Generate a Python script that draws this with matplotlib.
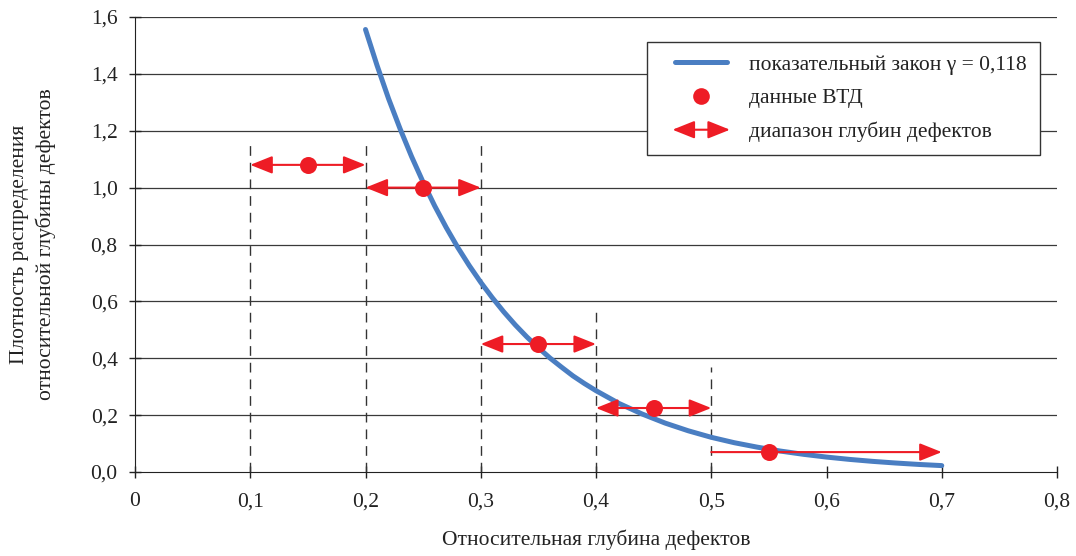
import matplotlib
matplotlib.use("Agg")
import numpy as np
import matplotlib.pyplot as plt
from matplotlib.patches import FancyArrowPatch
from matplotlib.lines import Line2D
from matplotlib.legend_handler import HandlerPatch, HandlerLine2D

plt.rcParams['font.family'] = ['Liberation Serif', 'DejaVu Serif']

# exponential law curve (gamma = 0.118)
curve_x = [0.20, 0.21, 0.22, 0.23, 0.24, 0.25, 0.26, 0.27, 0.28, 0.29, 0.30, 0.31, 0.32, 0.33,
           0.34, 0.35, 0.36, 0.37, 0.38, 0.39, 0.40, 0.42, 0.44,
           0.46, 0.48, 0.50, 0.52, 0.54, 0.56, 0.58, 0.60, 0.62, 0.64, 0.66, 0.68, 0.70]
curve_y = [1.556, 1.430, 1.313, 1.207, 1.109, 1.019, 0.936, 0.860, 0.790, 0.726, 0.667, 0.613, 0.563, 0.517,
           0.475, 0.437, 0.401, 0.369, 0.338, 0.311, 0.286, 0.241, 0.204,
           0.172, 0.145, 0.122, 0.103, 0.0873, 0.0736, 0.0622, 0.0525, 0.0443, 0.0374, 0.0316, 0.0266, 0.0225]

# ILI data points
data_x = [0.15, 0.25, 0.35, 0.45, 0.55]
data_y = [1.08, 1.00, 0.45, 0.225, 0.07]

# depth ranges
range_lo = [0.1, 0.2, 0.3, 0.4, 0.5]
range_hi = [0.2, 0.3, 0.4, 0.5, 0.7]
range_both = [True, True, True, True, False]

# dashed boundaries
dash_x = [0.1, 0.2, 0.3, 0.4, 0.5]
dash_top = [1.16, 1.16, 1.16, 0.57, 0.37]

yticks = [0.0, 0.2, 0.4, 0.6, 0.8, 1.0, 1.2, 1.4, 1.6]
ytick_labels = ['0,0', '0,2', '0,4', '0,6', '0,8', '1,0', '1,2', '1,4', '1,6']
xticks = [0.0, 0.1, 0.2, 0.3, 0.4, 0.5, 0.6, 0.7, 0.8]
xtick_labels = ['0', '0,1', '0,2', '0,3', '0,4', '0,5', '0,6', '0,7', '0,8']

blue = '#4a7ec2'
red = '#ee1c25'
ink = '#222222'
FS = 15.5
ARROW = '<|-|>,head_length=0.75,head_width=0.3'
INSET = 9.0  # legend handle left inset (points)

fig = plt.figure(figsize=(10.76, 5.56), dpi=100)
ax = fig.add_axes([135/1076, 1-472/556, (1057-135)/1076, (472-17)/556])

ax.set_xlim(0, 0.8)
ax.set_ylim(0, 1.6)

for y in yticks[1:]:
    ax.axhline(y, color='#3a3a3a', lw=0.9, zorder=1)

for x, t in zip(dash_x, dash_top):
    ax.plot([x, x], [0, t], color='#333333', lw=1.0, dashes=(7, 5), zorder=2)

ax.plot(curve_x, curve_y, color=blue, lw=3.6, solid_capstyle='round', solid_joinstyle='round', zorder=3)

for lo, hi, y, both in zip(range_lo, range_hi, data_y, range_both):
    style = ARROW if both else '-|>,head_length=0.75,head_width=0.3'
    arr = FancyArrowPatch((lo, y), (hi, y), arrowstyle=style,
                          mutation_scale=18, color=red, lw=1.5, shrinkA=0, shrinkB=0, zorder=4)
    ax.add_patch(arr)

ax.scatter(data_x, data_y, s=150, color=red, zorder=5, linewidths=0)

ax.spines['top'].set_visible(False)
ax.spines['right'].set_visible(False)
ax.spines['left'].set_color(ink)
ax.spines['bottom'].set_color(ink)
ax.set_yticks(yticks)
ax.set_yticklabels(ytick_labels)
ax.set_xticks(xticks)
ax.set_xticklabels(xtick_labels)
ax.tick_params(axis='both', direction='inout', length=9, width=1.0, color=ink,
               labelsize=FS, labelcolor=ink)
ax.tick_params(axis='x', pad=10)
ax.tick_params(axis='y', pad=8)

fig.text(596/1076, 1-540/556, 'Относительная глубина дефектов', fontsize=FS, color=ink,
         ha='center', va='center')
fig.text(33/1076, 1-244/556, 'Плотность распределения\nотносительной глубины дефектов', fontsize=FS,
         color=ink, ha='center', va='center', rotation=90, multialignment='center', linespacing=1.45)


class HandlerArrow(HandlerPatch):
    def create_artists(self, legend, orig_handle, xdescent, ydescent, width, height, fontsize, trans):
        p = FancyArrowPatch((-xdescent + INSET, height/2 - ydescent), (width - xdescent, height/2 - ydescent),
                            arrowstyle=ARROW, mutation_scale=18,
                            color=red, lw=1.5, shrinkA=0, shrinkB=0)
        p.set_transform(trans)
        return [p]


class InsetLine(HandlerLine2D):
    def get_xdata(self, legend, xdescent, ydescent, width, height, fontsize):
        x0 = -xdescent + INSET
        x1 = -xdescent + width
        xdata = np.array([x0 + 2, x1 - 2])
        xmark = np.array([(x0 + x1) / 2])
        return xdata, xmark


h_line = Line2D([], [], color=blue, lw=3.6, solid_capstyle='round')
h_pt = Line2D([], [], marker='o', ls='none', color=red, markersize=12, markeredgewidth=0)
h_arr = FancyArrowPatch((0, 0), (1, 0))
leg = ax.legend([h_line, h_pt, h_arr],
                ['показательный закон γ = 0,118', 'данные ВТД', 'диапазон глубин дефектов'],
                handler_map={FancyArrowPatch: HandlerArrow(), Line2D: InsetLine(numpoints=1)},
                loc='upper right', bbox_to_anchor=(1040/1076, 1-42/556), bbox_transform=fig.transFigure,
                fontsize=FS, frameon=True, fancybox=False, edgecolor='#333333', framealpha=1,
                handlelength=3.25, handletextpad=0.9, labelspacing=0.62, borderpad=0.6,
                borderaxespad=0)
leg.get_frame().set_linewidth(1.0)
for t in leg.get_texts():
    t.set_color(ink)

fig.savefig('out.png', dpi=100)
